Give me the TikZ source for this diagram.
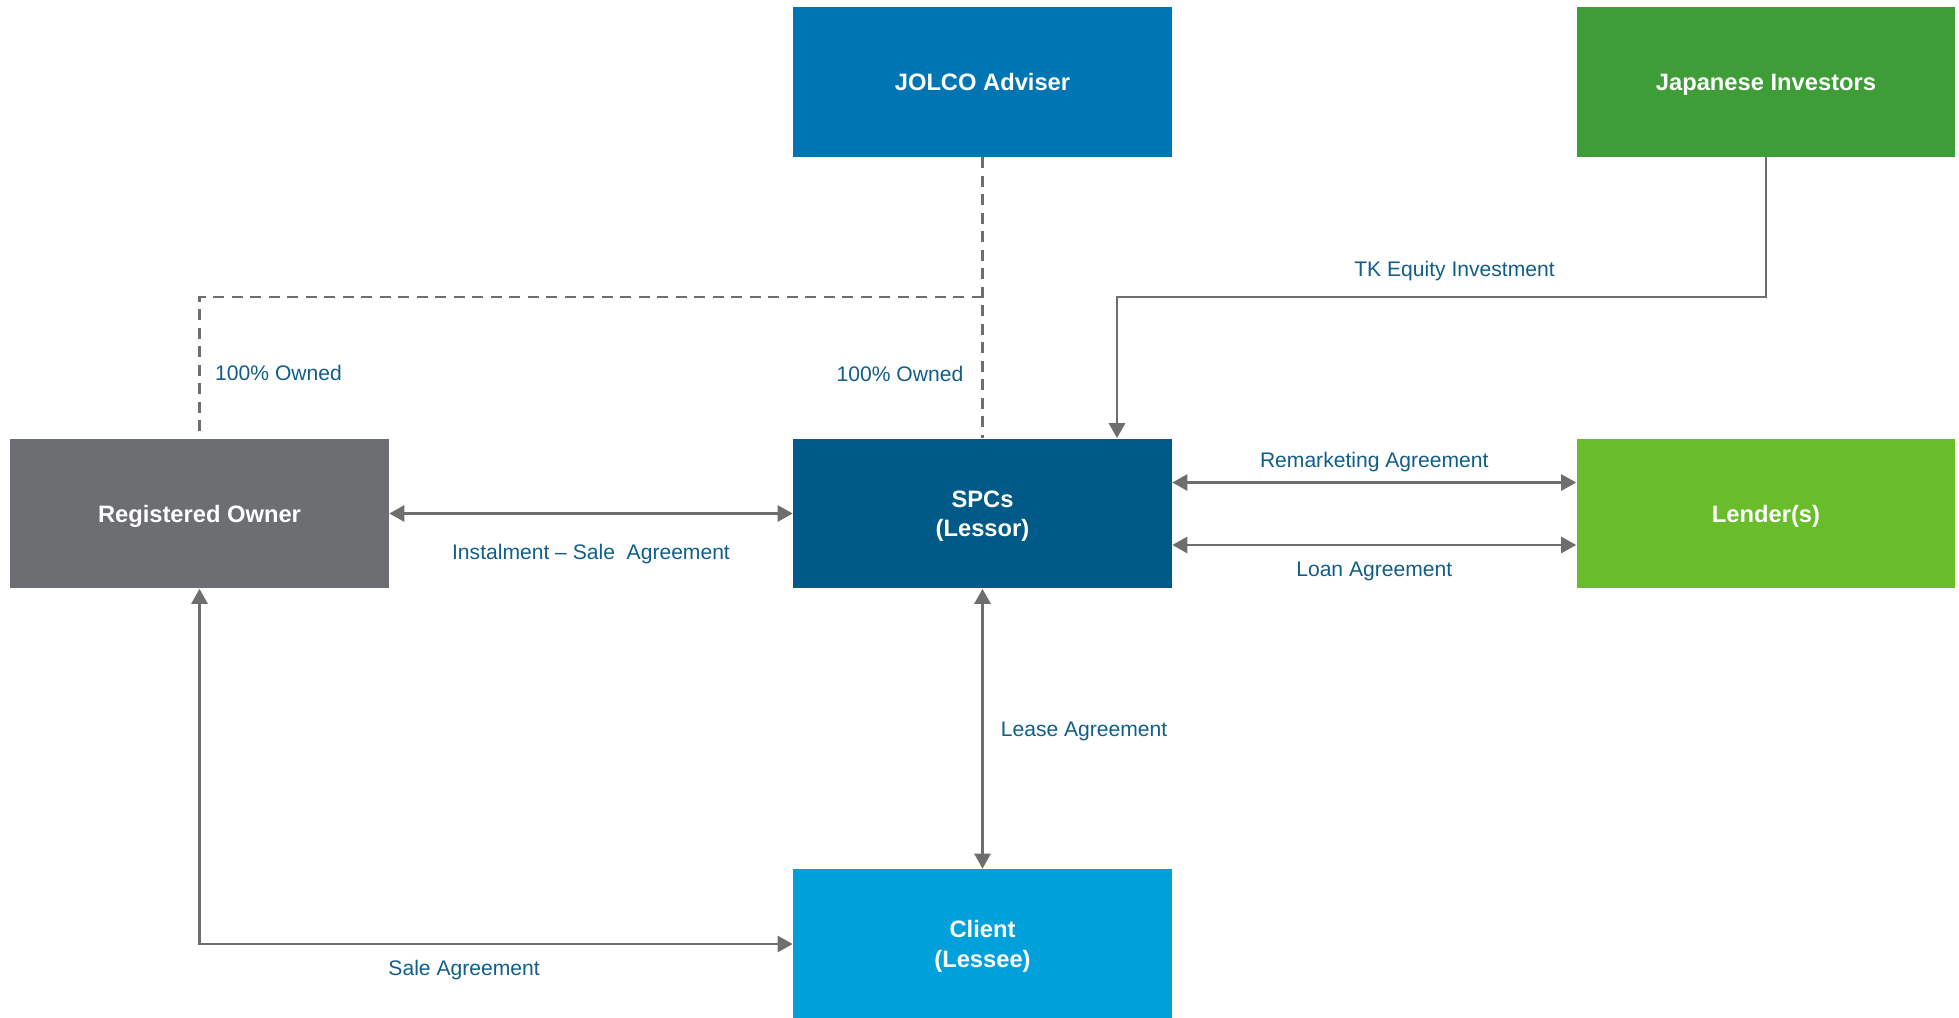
\documentclass[tikz,border=0pt]{standalone}
\usepackage{fontspec}
\setmainfont{Liberation Sans}
\usetikzlibrary{arrows.meta}

\definecolor{jolcoblue}{RGB}{0,117,179}
\definecolor{investorgreen}{RGB}{62,157,55}
\definecolor{spcblue}{RGB}{0,90,135}
\definecolor{lendergreen}{RGB}{106,189,42}
\definecolor{ownergrey}{RGB}{109,110,113}
\definecolor{clientblue}{RGB}{0,161,218}
\definecolor{linkgrey}{RGB}{110,110,110}
\definecolor{dealtext}{RGB}{16,94,138}

\begin{document}
\begin{tikzpicture}[x=0.02cm, y=-0.02cm, >={Triangle[length=0.3cm, width=0.32cm]},
        party/.style={minimum width=7.58cm, minimum height=3cm, inner sep=0pt, align=center, text=white, text height=9.7pt, text depth=0pt, font=\fontsize{13.5}{17}\selectfont\bfseries},
        twoline/.style={text height=26.7pt},
        deal/.style={font=\fontsize{12}{14}\selectfont, text=dealtext, inner sep=0pt, text height=8.6pt, text depth=0pt},
        link/.style={draw=linkgrey, line width=0.055cm},
        owned/.style={draw=linkgrey, line width=0.05cm, dash pattern=on 0.22cm off 0.15cm}]
    \useasboundingbox (0,0) rectangle (1959,1017);
    % parties
    \node[party, fill=jolcoblue] (jolco) at (982.5,82) {JOLCO Adviser};
    \node[party, fill=investorgreen] (investors) at (1766,82) {Japanese Investors};
    \node[party, fill=ownergrey] (owner) at (199.5,513.5) {Registered Owner};
    \node[party, twoline, fill=spcblue] (spc) at (982.5,513.5) {SPCs\\(Lessor)};
    \node[party, fill=lendergreen] (lender) at (1766,513.5) {Lender(s)};
    \node[party, twoline, fill=clientblue] (client) at (982.5,944) {Client\\(Lessee)};
    \coordinate (tkbend) at (1117,297);
    % ownership
    \draw[owned] (jolco.south) -- node[deal, pos=0.77, left=0.36cm]{100\% Owned} (spc.north);
    \draw[owned] (jolco.south |- tkbend) -| node[deal, pos=0.77, right=0.29cm]{100\% Owned} (owner.north);
    % agreements
    \draw[link, ->] (investors.south) |- node[deal, pos=0.74, above=0.38cm]{TK Equity Investment} (tkbend) -- (tkbend |- spc.north);
    \draw[link, <->] ([yshift=0.62cm]spc.east) -- node[deal, above=0.274cm]{Remarketing Agreement} ([yshift=0.62cm]lender.west);
    \draw[link, <->] ([yshift=-0.63cm]spc.east) -- node[deal, below=0.3cm]{Loan Agreement} ([yshift=-0.63cm]lender.west);
    \draw[link, <->] (owner.east) -- node[deal, below=0.585cm]{Instalment – Sale~~Agreement} (spc.west);
    \draw[link, <->] (spc.south) -- node[deal, right=0.34cm]{Lease Agreement} (client.north);
    \draw[link, <->] (owner.south) |- node[deal, pos=0.723, below=0.31cm]{Sale Agreement} (client.west);
\end{tikzpicture}
\end{document}
